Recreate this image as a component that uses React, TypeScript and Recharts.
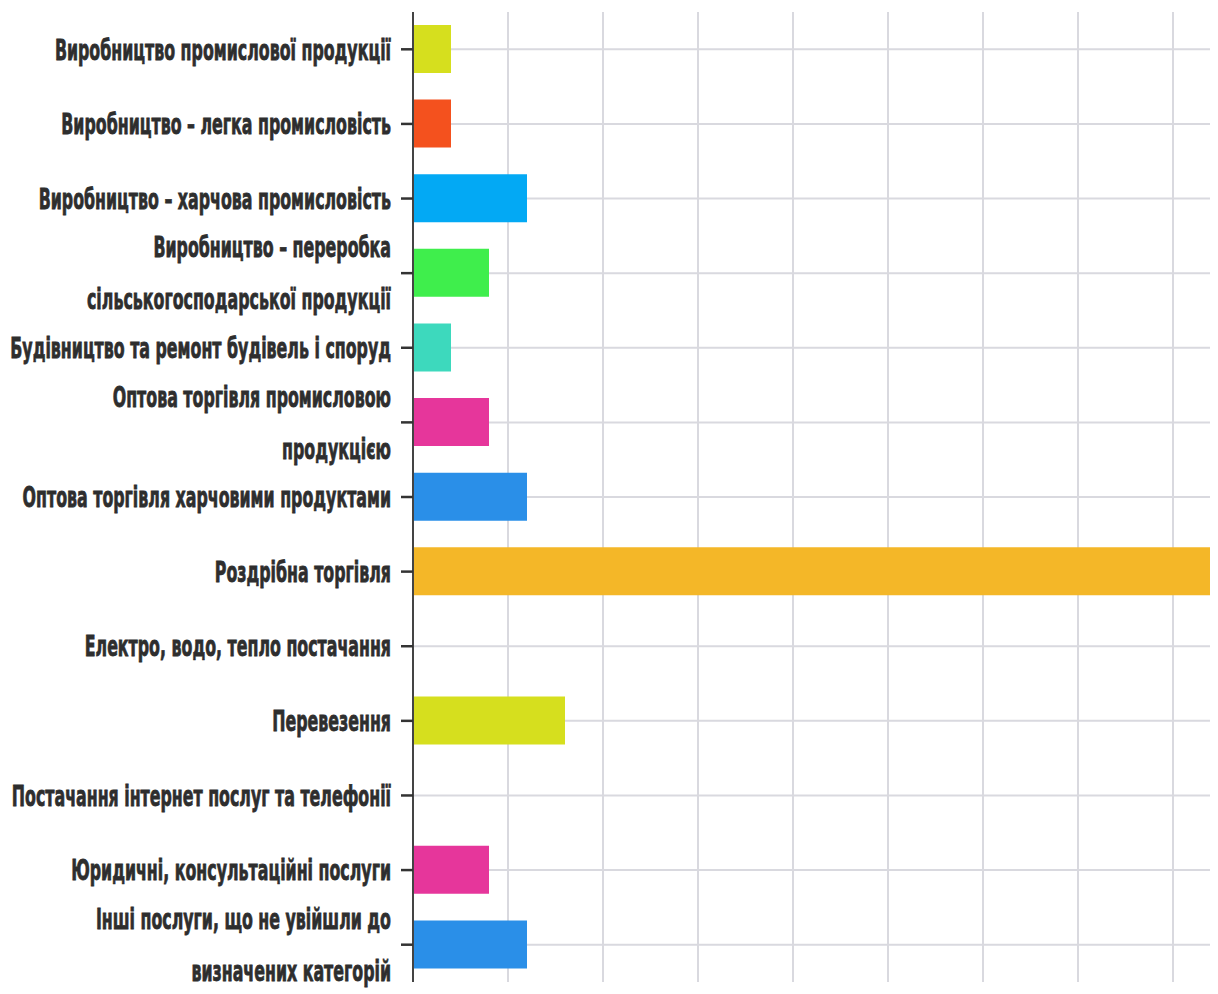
import React from "react";
import { BarChart, Bar, XAxis, YAxis, CartesianGrid, Cell } from "recharts";

// Sectors (line breaks mark where long labels wrap)
const categories = [
  "Виробництво промислової продукції",
  "Виробництво – легка промисловість",
  "Виробництво – харчова промисловість",
  "Виробництво – переробка\nсільськогосподарської продукції",
  "Будівництво та ремонт будівель і споруд",
  "Оптова торгівля промисловою\nпродукцією",
  "Оптова торгівля харчовими продуктами",
  "Роздрібна торгівля",
  "Електро, водо, тепло постачання",
  "Перевезення",
  "Постачання інтернет послуг та телефонії",
  "Юридичні, консультаційні послуги",
  "Інші послуги, що не увійшли до\nвизначених категорій",
];

const counts = [1, 1, 3, 2, 1, 2, 3, 21, 0, 4, 0, 2, 3];

const barColors = [
  "#d6df1e",
  "#f4511e",
  "#03a9f4",
  "#3fee4c",
  "#3dd9bd",
  "#e6369b",
  "#2a8fe8",
  "#f4b728",
  "#9e9e9e",
  "#d6df1e",
  "#9e9e9e",
  "#e6369b",
  "#2a8fe8",
];

const xTicks = [0, 2.5, 5, 7.5, 10, 12.5, 15, 17.5, 20];
const xMax = 21;

const data = categories.map((name, i) => ({ name, value: counts[i] }));

const FONT = "'Liberation Sans Narrow', 'DejaVu Sans Condensed', 'Roboto Condensed', 'Noto Sans', sans-serif";
const FONT_SIZE = 22;
const SQUEEZE = 0.8;
const STRETCH = 1.28;
const LINE_GAP = 52;
const GRID = "#d9d9df";
const LABEL = "#2e2e2e";

// Category label: bold condensed text, stretched vertically, wrapped on "\n"
const CategoryTick = (props: any) => {
  const { x, y, payload } = props;
  const lines: string[] = String(payload.value).split("\n");
  const capHalf = (FONT_SIZE * 0.729 * STRETCH) / 2;
  const start = -((lines.length - 1) * LINE_GAP) / 2;
  return (
    <g transform={`translate(${x},${y}) scale(${SQUEEZE},${STRETCH})`}>
      {lines.map((line, i) => (
        <text
          key={i}
          x={0}
          y={(start + i * LINE_GAP + capHalf) / STRETCH}
          textAnchor="end"
          fill={LABEL}
          stroke={LABEL}
          strokeWidth={0.6}
          fontFamily={FONT}
          fontWeight="bold"
          fontSize={FONT_SIZE}
        >
          {line}
        </text>
      ))}
    </g>
  );
};

// Map a data value through an axis scale (plain d3 scale or scale wrapper), band centre for categories
const toPixel = (scale: any, v: any): number | undefined => {
  if (!scale) return undefined;
  if (typeof scale === "function") {
    const half = typeof scale.bandwidth === "function" ? scale.bandwidth() / 2 : 0;
    const p = scale(v);
    return p == null ? undefined : p + half;
  }
  if (typeof scale.map === "function") {
    return scale.map(v, { position: "middle" });
  }
  return undefined;
};

const verticalLines = ({ xAxis }: any) =>
  xTicks
    .slice(1)
    .map((t) => toPixel(xAxis && xAxis.scale, t))
    .filter((p) => typeof p === "number" && !isNaN(p as number)) as number[];

const horizontalLines = ({ yAxis }: any) =>
  categories
    .map((c) => toPixel(yAxis && yAxis.scale, c))
    .filter((p) => typeof p === "number" && !isNaN(p as number)) as number[];

export default function App() {
  return (
    <BarChart
      width={1210}
      height={986}
      data={data}
      layout="vertical"
      margin={{ top: 4, right: 7, bottom: 12, left: 0 }}
    >
      <CartesianGrid
        stroke={GRID}
        strokeWidth={2}
        verticalCoordinatesGenerator={verticalLines}
        horizontalCoordinatesGenerator={horizontalLines}
      />
      <XAxis type="number" domain={[0, xMax]} ticks={xTicks} hide />
      <YAxis
        type="category"
        dataKey="name"
        width={405}
        interval={0}
        tickSize={12}
        tickMargin={10}
        axisLine={{ stroke: "#444444", strokeWidth: 2 }}
        tickLine={{ stroke: "#333333", strokeWidth: 2.5 }}
        tick={<CategoryTick />}
      />
      <Bar dataKey="value" barSize={48} isAnimationActive={false}>
        {data.map((d, i) => (
          <Cell key={d.name} fill={barColors[i]} />
        ))}
      </Bar>
    </BarChart>
  );
}
